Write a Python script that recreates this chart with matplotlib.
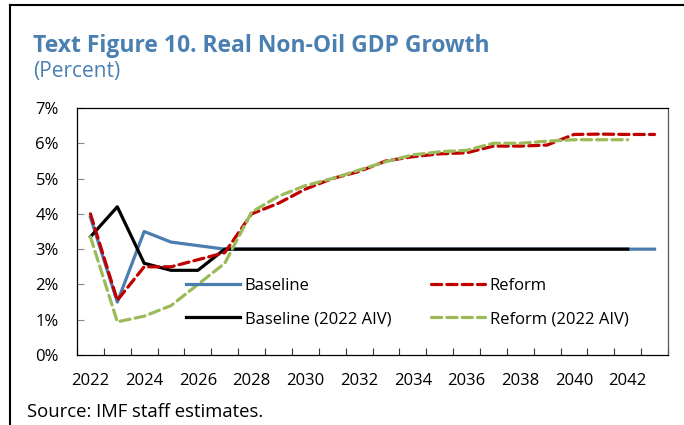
import matplotlib
matplotlib.use("Agg")
import matplotlib.pyplot as plt
import numpy as np

plt.rcParams["font.family"] = ["Open Sans", "DejaVu Sans"]

# real non-oil GDP growth, percent
years = list(range(2022, 2044))
baseline = [3.9, 1.5, 3.5, 3.2, 3.1, 3.0, 3.0, 3.0, 3.0, 3.0, 3.0,
            3.0, 3.0, 3.0, 3.0, 3.0, 3.0, 3.0, 3.0, 3.0, 3.0, 3.0]
reform = [4.0, 1.55, 2.5, 2.5, 2.7, 2.9, 4.0, 4.3, 4.7, 5.0, 5.2,
          5.5, 5.62, 5.7, 5.73, 5.92, 5.92, 5.95, 6.25, 6.26, 6.25, 6.25]
baseline_aiv = [3.35, 4.2, 2.6, 2.4, 2.4, 3.0, 3.0, 3.0, 3.0, 3.0, 3.0,
                3.0, 3.0, 3.0, 3.0, 3.0, 3.0, 3.0, 3.0, 3.0, 3.0]
reform_aiv = [3.35, 0.94, 1.1, 1.4, 2.0, 2.6, 4.05, 4.5, 4.8, 5.0, 5.24,
              5.48, 5.67, 5.76, 5.8, 6.0, 6.0, 6.06, 6.1, 6.1, 6.1]
year_labels = [str(y) for y in range(2022, 2043, 2)]
pct_labels = [f"{v}%" for v in range(0, 8)]

BLUE = "#4a7eb0"
RED = "#c00000"
GREEN = "#9bbb59"
TITLE = "#4a7fb2"

fig = plt.figure(figsize=(6.84, 4.25), dpi=100)
ax = fig.add_axes([0.1126, 0.1647, 0.8640, 0.5812])

x = np.arange(len(years))
lw = 2.3
ax.plot(x[:len(baseline)], baseline, color=BLUE, lw=lw, label="Baseline")
ax.plot(x[:len(baseline_aiv)], baseline_aiv, color="black", lw=lw,
        label="Baseline (2022 AIV)")
ax.plot(x[:len(reform)], reform, color=RED, lw=lw, ls=(0, (3.2, 1.6)),
        dash_capstyle="round", label="Reform")
ax.plot(x[:len(reform_aiv)], reform_aiv, color=GREEN, lw=lw, ls=(0, (3.2, 1.6)),
        dash_capstyle="round", label="Reform (2022 AIV)")

ax.set_xlim(-0.5, len(years) - 0.5)
ax.set_ylim(0, 7)

# category boundaries carry the tick marks, labels sit at every other centre
ax.set_xticks(np.arange(-0.5, len(years), 1.0))
ax.set_xticklabels([])
ax.set_xticks(np.arange(0, 21, 2), minor=True)
ax.set_xticklabels(year_labels, minor=True)
ax.tick_params(axis="x", which="major", direction="in", length=5, width=0.8,
               color="#333333")
ax.tick_params(axis="x", which="minor", length=0, pad=13, labelsize=12)

ax.set_yticks(range(0, 8))
ax.set_yticklabels(pct_labels)
ax.tick_params(axis="y", direction="in", length=5, width=0.8, color="#888888",
               pad=13, labelsize=12)

for s in ax.spines.values():
    s.set_linewidth(0.9)
ax.spines["right"].set_color("#555555")

ax.legend(ncol=2, loc="center left", bbox_to_anchor=(0.185, 0.213),
          frameon=False, fontsize=12, handlelength=3.2, handletextpad=0.3,
          columnspacing=2.4, labelspacing=1.04, borderpad=0, borderaxespad=0)

fig.text(0.048, 0.8784, "Text Figure 10. Real Non-Oil GDP Growth", color=TITLE,
         fontsize=16.5, fontweight="bold", va="baseline")
fig.text(0.048, 0.8195, "(Percent)", color=TITLE, fontsize=15, va="baseline")
fig.text(0.039, 0.0195, "Source: IMF staff estimates.", fontsize=13.3,
         va="baseline")

# page frame: top and left rules
fig.add_artist(plt.Line2D([0.0146, 0.0146], [0, 0.988], color="black", lw=1.5,
                          transform=fig.transFigure))
fig.add_artist(plt.Line2D([0.0146, 1.0], [0.988, 0.988], color="black", lw=1.5,
                          transform=fig.transFigure))

fig.savefig("out.png", dpi=100)
